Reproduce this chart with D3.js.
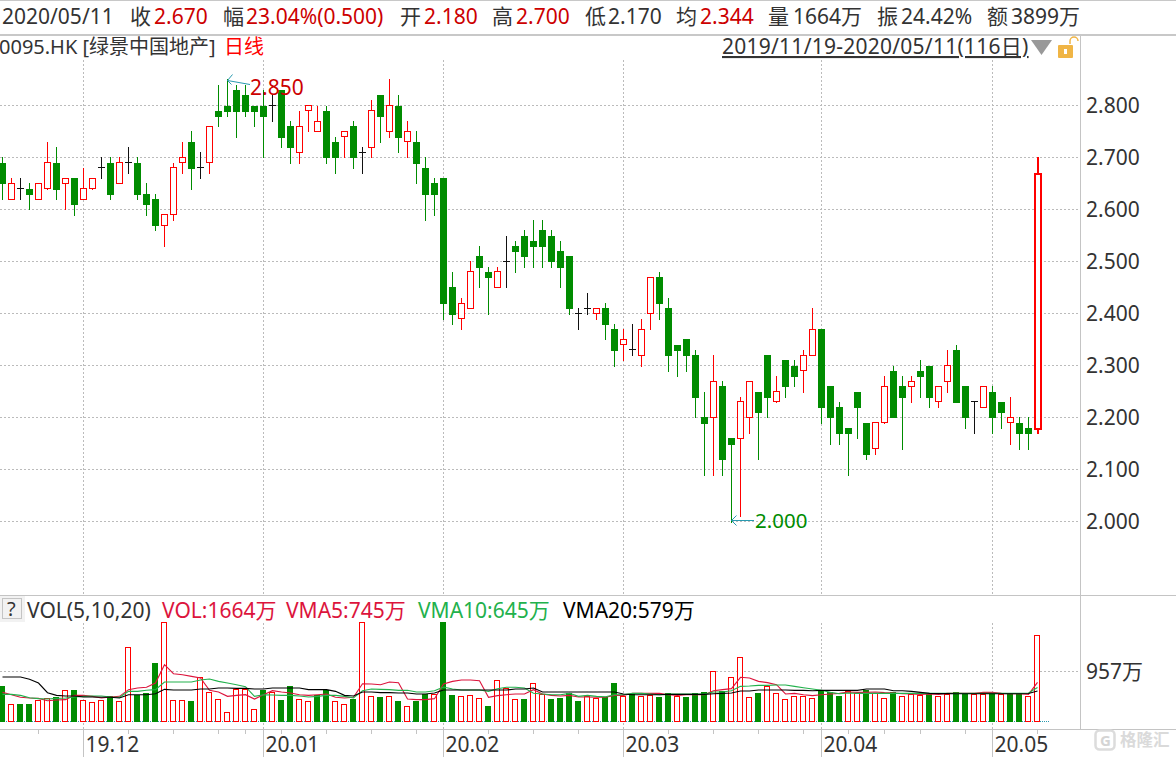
<!DOCTYPE html>
<html><head><meta charset="utf-8">
<script src="https://cdnjs.cloudflare.com/ajax/libs/d3/7.8.5/d3.min.js"></script>
<style>html,body{margin:0;padding:0;background:#fff;overflow:hidden}svg{display:block}text{font-family:"Noto Sans","Noto Sans CJK SC",sans-serif}</style>
</head><body><svg id="c" width="1176" height="757"></svg>
<script>
const opens=[2.69,2.62,2.64,2.64,2.62,2.64,2.69,2.65,2.66,2.62,
2.64,2.68,2.69,2.65,2.69,2.69,2.63,2.62,2.57,2.59,
2.69,2.73,2.68,2.69,2.79,2.80,2.83,2.82,2.80,2.80,
2.80,2.83,2.76,2.71,2.79,2.75,2.79,2.73,2.74,2.76,
2.71,2.72,2.82,2.75,2.80,2.73,2.73,2.68,2.65,2.66,
2.45,2.39,2.41,2.51,2.48,2.45,2.50,2.53,2.55,2.54,
2.56,2.55,2.52,2.51,2.40,2.41,2.40,2.41,2.37,2.34,
2.33,2.32,2.40,2.47,2.41,2.34,2.35,2.32,2.20,2.20,
2.26,2.16,2.16,2.20,2.25,2.32,2.23,2.31,2.30,2.29,
2.32,2.37,2.26,2.22,2.18,2.25,2.19,2.14,2.19,2.29,
2.26,2.26,2.29,2.30,2.23,2.27,2.33,2.26,2.23,2.22,
2.25,2.23,2.19,2.19,2.18,2.18];
const closes=[2.65,2.65,2.64,2.63,2.65,2.69,2.64,2.66,2.61,2.64,
2.66,2.68,2.63,2.69,2.69,2.63,2.61,2.57,2.59,2.68,
2.70,2.68,2.68,2.76,2.78,2.79,2.79,2.79,2.79,2.78,
2.80,2.74,2.72,2.76,2.80,2.77,2.70,2.70,2.75,2.70,
2.71,2.79,2.78,2.80,2.74,2.75,2.69,2.63,2.63,2.42,
2.40,2.42,2.48,2.49,2.47,2.48,2.50,2.52,2.51,2.53,
2.53,2.50,2.49,2.41,2.40,2.41,2.41,2.38,2.33,2.35,
2.33,2.37,2.47,2.42,2.32,2.33,2.32,2.24,2.19,2.27,
2.12,2.15,2.23,2.27,2.21,2.24,2.25,2.26,2.28,2.32,
2.37,2.22,2.20,2.17,2.17,2.22,2.13,2.19,2.26,2.20,
2.24,2.27,2.28,2.24,2.26,2.30,2.23,2.20,2.23,2.26,
2.20,2.21,2.20,2.17,2.17,2.67];
const highs=[2.70,2.66,2.66,2.65,2.65,2.73,2.72,2.66,2.66,2.68,
2.66,2.70,2.70,2.70,2.72,2.70,2.65,2.63,2.59,2.69,
2.73,2.75,2.71,2.76,2.84,2.85,2.84,2.84,2.80,2.83,
2.82,2.83,2.77,2.79,2.80,2.80,2.80,2.74,2.75,2.77,
2.72,2.81,2.82,2.85,2.82,2.77,2.75,2.70,2.66,2.66,
2.48,2.43,2.50,2.53,2.49,2.49,2.55,2.54,2.56,2.58,
2.58,2.56,2.54,2.51,2.41,2.44,2.41,2.42,2.38,2.37,
2.38,2.39,2.47,2.48,2.43,2.34,2.35,2.33,2.25,2.32,
2.27,2.16,2.24,2.27,2.25,2.32,2.28,2.31,2.31,2.33,
2.41,2.37,2.26,2.23,2.18,2.25,2.19,2.19,2.28,2.30,
2.28,2.28,2.31,2.30,2.26,2.33,2.34,2.26,2.23,2.26,
2.26,2.23,2.24,2.20,2.20,2.70];
const lows=[2.62,2.62,2.62,2.60,2.62,2.64,2.62,2.60,2.59,2.62,
2.64,2.66,2.62,2.65,2.67,2.62,2.59,2.56,2.53,2.58,
2.67,2.64,2.66,2.67,2.76,2.78,2.74,2.78,2.76,2.70,
2.77,2.72,2.69,2.69,2.75,2.75,2.69,2.67,2.70,2.68,
2.67,2.70,2.73,2.74,2.71,2.70,2.65,2.58,2.59,2.39,
2.38,2.37,2.41,2.45,2.40,2.45,2.45,2.48,2.49,2.49,
2.49,2.49,2.45,2.40,2.37,2.40,2.39,2.35,2.30,2.31,
2.32,2.30,2.37,2.39,2.29,2.28,2.29,2.20,2.09,2.09,
2.09,2.00,2.01,2.17,2.12,2.20,2.23,2.24,2.26,2.25,
2.32,2.19,2.15,2.15,2.09,2.16,2.12,2.13,2.19,2.20,
2.14,2.23,2.24,2.22,2.22,2.25,2.23,2.18,2.17,2.22,
2.17,2.18,2.15,2.14,2.14,2.17];
const volumes=[682,328,328,328,399,437,463,592,598,399,
367,399,482,386,1422,502,540,1119,1904,399,
399,386,843,566,425,167,618,618,232,605,
566,399,682,418,386,502,592,386,328,425,
1904,476,463,476,386,283,386,515,515,1904,
502,476,495,437,289,785,630,418,425,727,
527,425,444,540,386,476,437,457,727,476,
527,476,502,463,534,476,463,534,560,958,
579,849,1229,457,540,669,534,418,476,476,
437,579,560,482,579,534,605,534,437,560,
476,515,502,534,476,521,560,521,521,515,
534,527,527,527,476,1664];
const volRise=[0,1,0,0,1,1,0,1,0,1,
1,1,0,1,1,0,0,0,1,1,
1,0,1,1,1,1,1,1,1,0,
1,0,0,1,1,0,0,1,1,0,
1,1,0,1,0,1,0,0,1,0,
0,1,1,1,0,1,1,1,0,1,
1,0,0,0,0,1,1,0,0,1,
0,1,1,0,0,1,0,0,0,1,
0,1,1,1,0,1,1,1,1,1,
1,0,0,0,1,1,0,1,1,0,
1,1,1,0,1,1,0,0,1,1,
0,1,0,0,1,1];
const vma5=[553,508,457,444,437,392,405,412,495,495,
476,444,463,476,605,637,650,733,1087,913,
894,862,830,592,560,476,495,508,424,508,
585,560,540,508,495,508,521,457,444,457,
720,714,701,752,740,424,412,412,431,714,
765,791,791,778,457,489,508,521,521,605,
521,495,482,495,463,463,457,457,495,495,
534,534,534,534,508,495,508,508,508,585,
605,624,843,830,765,740,701,521,534,508,
489,508,521,534,560,553,553,560,547,540,
527,521,514,521,514,534,534,534,534,553,
553,534,527,527,514,745];
const vma10=[514,514,495,450,431,424,437,444,463,476,
482,482,463,457,572,572,592,605,752,752,
752,752,791,810,765,733,701,662,476,508,
502,495,495,482,463,476,495,495,476,444,
585,617,611,605,592,592,560,560,585,656,
617,598,598,598,572,624,650,650,637,534,
521,508,508,534,476,495,476,469,508,508,
534,534,521,508,521,521,521,521,521,560,
560,585,669,675,688,688,695,695,669,643,
617,592,553,527,540,534,534,534,534,534,
534,534,534,534,534,534,534,534,534,534,
534,534,534,534,540,645];
const vma20=[849,849,849,804,733,547,495,482,482,463,
463,457,457,444,508,508,508,527,611,598,
598,598,617,617,637,637,630,630,617,617,
637,637,637,637,605,605,605,572,495,482,
560,560,547,547,540,540,521,521,540,598,
598,598,598,598,598,598,598,617,617,637,
560,560,560,560,560,560,560,560,560,521,
508,508,508,508,514,514,514,514,514,527,
534,540,579,579,598,598,598,598,592,592,
585,592,592,592,592,592,617,617,617,585,
585,572,553,534,528,528,527,527,527,527,
527,527,527,527,530,579];
const priceTicks=[2.8,2.7,2.6,2.5,2.4,2.3,2.2,2.1,2.0];
const volTicks=[957];
const monthTicks=[[9,"19.12"],[29,"20.01"],[49,"20.02"],[69,"20.03"],[91,"20.04"],[110,"20.05"]];
const minorTicks=[4,14,19,24,27,31,36,41,46,54,59,64,74,79,84,89,94,98,102,107,115];

const RED="#ff0000",GRN="#008c00",INK="#333333",DRED="#cc0000";
const svg=d3.select("#c");
const x=d3.scaleLinear().domain([0,115]).range([2.5,1037.5]);
const y=d3.scaleLinear().domain([2.0,2.8]).range([521.5,105.5]);
const crisp=v=>Math.floor(v)+0.5;
const vBase=721;
const yv=d3.scaleLinear().domain([0,19.3]).range([vBase,vBase-1]);

const bg=svg.append("g");
bg.append("rect").attr("x",0).attr("y",0).attr("width",1176).attr("height",1).attr("fill","#c8c8c8");
bg.append("rect").attr("x",0).attr("y",34).attr("width",1176).attr("height",2).attr("fill","#c8c8c8");
bg.append("rect").attr("x",1080).attr("y",36).attr("width",1).attr("height",693).attr("fill","#c4c4c4");
bg.append("rect").attr("x",0).attr("y",595).attr("width",1176).attr("height",1).attr("fill","#c4c4c4");
bg.append("rect").attr("x",0).attr("y",729).attr("width",1176).attr("height",1).attr("fill","#c4c4c4");

const dash="2,2";
bg.selectAll(".hg").data(priceTicks).join("line").attr("x1",0).attr("x2",1080)
 .attr("y1",d=>crisp(y(d))).attr("y2",d=>crisp(y(d))).attr("stroke","#bbb").attr("stroke-dasharray",dash);
bg.selectAll(".vg").data(monthTicks).join("line").attr("x1",d=>crisp(x(d[0]))).attr("x2",d=>crisp(x(d[0])))
 .attr("y1",60).attr("y2",595).attr("stroke","#bbb").attr("stroke-dasharray",dash);
bg.selectAll(".vg2").data(monthTicks).join("line").attr("x1",d=>crisp(x(d[0]))).attr("x2",d=>crisp(x(d[0])))
 .attr("y1",623).attr("y2",729).attr("stroke","#bbb").attr("stroke-dasharray",dash);
bg.selectAll(".vh").data(volTicks).join("line").attr("x1",0).attr("x2",1080)
 .attr("y1",d=>crisp(yv(d))).attr("y2",d=>crisp(yv(d))).attr("stroke","#bbb").attr("stroke-dasharray",dash);
bg.selectAll(".mt").data(monthTicks).join("line").attr("x1",d=>crisp(x(d[0]))).attr("x2",d=>crisp(x(d[0])))
 .attr("y1",730).attr("y2",757).attr("stroke","#c4c4c4");
bg.selectAll(".nt").data(minorTicks).join("line").attr("x1",d=>crisp(x(d))).attr("x2",d=>crisp(x(d)))
 .attr("y1",730).attr("y2",734).attr("stroke","#c4c4c4");
bg.append("line").attr("x1",0).attr("x2",1049).attr("y1",vBase+.5).attr("y2",vBase+.5).attr("stroke","#2a9ab0").attr("stroke-dasharray","1,1");

const idx=d3.range(opens.length);
const col=i=>closes[i]>opens[i]?RED:closes[i]<opens[i]?GRN:"#111";
const g=svg.append("g");
idx.forEach(i=>{
  const cx=x(i),last=i===115,c=col(i);
  g.append("line").attr("x1",last?cx+.5:cx).attr("x2",last?cx+.5:cx).attr("y1",Math.round(y(highs[i]))).attr("y2",Math.round(y(lows[i]))+1).attr("stroke",c).attr("stroke-width",last?2:1);
  const t=y(Math.max(opens[i],closes[i])),b=y(Math.min(opens[i],closes[i]));
  if(c===GRN){
    g.append("rect").attr("x",cx-3.5).attr("width",7).attr("y",Math.round(t)).attr("height",Math.max(1,Math.round(b)-Math.round(t)+1)).attr("fill",GRN);
  }else if(c===RED){
    if(last) g.append("rect").attr("x",cx-2.5).attr("width",6).attr("y",Math.round(t)+1).attr("height",Math.round(b)-Math.round(t)).attr("fill","#fff").attr("stroke",RED).attr("stroke-width",2);
    else g.append("rect").attr("x",cx-3).attr("width",6).attr("y",crisp(t)).attr("height",Math.max(1,crisp(b)-crisp(t))).attr("fill","#fff").attr("stroke",RED);
  }else{
    g.append("line").attr("x1",cx-3.5).attr("x2",cx+3.5).attr("y1",crisp(t)).attr("y2",crisp(t)).attr("stroke",c);
  }
});

const vg=svg.append("g");
idx.forEach(i=>{
  const cx=x(i),top=Math.round(yv(volumes[i]));
  if(volRise[i]) vg.append("rect").attr("x",cx-3).attr("width",5).attr("y",top+.5).attr("height",vBase-top).attr("fill","#fff").attr("stroke",RED);
  else vg.append("rect").attr("x",cx-3.5).attr("width",6).attr("y",top).attr("height",vBase-top+1).attr("fill",GRN);
});
const ln=d3.line().x((d,i)=>x(i)).y(d=>yv(d));
[[vma5,"#dc143c"],[vma10,"#22b14c"],[vma20,"#000"]].forEach(([a,c])=>{
  svg.append("path").attr("d",ln(a)).attr("fill","none").attr("stroke",c).attr("stroke-width",1.1);
});

const FS=21;
const T=(tx,ty,s,fill,size=FS,extra)=>{const e=svg.append("text").attr("x",tx).attr("y",ty).attr("fill",fill).attr("font-size",size).text(s);if(extra)extra(e);return e;};
const hb=24;
[[2,"2020/05/11",INK],[130,"收",INK],[154,"2.670",DRED],[223,"幅",INK],[246,"23.04%(0.500)",DRED],[400,"开",INK],[424,"2.180",DRED],[492,"高",INK],[516,"2.700",DRED],[585,"低",INK],[608,"2.170",INK],[676,"均",INK],[700,"2.344",DRED],[768,"量",INK],[793,"1664万",INK],[877,"振",INK],[901,"24.42%",INK],[987,"额",INK],[1011,"3899万",INK]]
 .forEach(d=>T(d[0],hb,d[1],d[2]));
T(-1,54,"0095.HK [绿景中国地产]",INK,20);
T(224,54,"日线",RED,20);
T(722,54,"2019/11/19-2020/05/11(116日)",INK,FS,e=>e.attr("text-decoration","underline").attr("letter-spacing",0.25));
svg.append("path").attr("d","M1031 40L1052 40L1041.5 55Z").attr("fill","#999");
svg.append("rect").attr("x",1058).attr("y",45).attr("width",15).attr("height",13).attr("rx",1).attr("fill","#f0b545");
svg.append("rect").attr("x",1064).attr("y",49).attr("width",3).attr("height",5).attr("fill","#fff");
svg.append("path").attr("d","M1070 44V41A4 4 0 0 1 1078 41").attr("fill","none").attr("stroke","#f0b545").attr("stroke-width",1.5);

svg.selectAll(".yl").data(priceTicks).join("text").attr("x",1086).attr("y",d=>y(d)+7.5).attr("fill",INK).attr("font-size",FS).text(d=>d.toFixed(3));
svg.selectAll(".vl").data(volTicks).join("text").attr("x",1086).attr("y",d=>yv(d)+8).attr("fill",INK).attr("font-size",FS).text(d=>d+"万");
svg.selectAll(".xl").data(monthTicks).join("text").attr("x",d=>x(d[0])+2).attr("y",752).attr("fill",INK).attr("font-size",FS).text(d=>d[1]);

const arrow="#2a9ab0";
const ha=x(25);
svg.append("path").attr("d",`M250 84.5L${ha} 80.5M${ha+5} 74.5L${ha} 80.5L${ha+4} 84.5`).attr("fill","none").attr("stroke",arrow);
T(250,95,"2.850",DRED);
const la=x(81);
svg.append("path").attr("d",`M754 520.5L${la} 520.5M${la+5} 515.5L${la} 520.5L${la+5} 525.5`).attr("fill","none").attr("stroke",arrow);
T(755,527.5,"2.000",GRN,20.5);

svg.append("rect").attr("x",0).attr("y",596).attr("width",25).attr("height",26).attr("fill","#f2f2f2");
svg.append("rect").attr("x",2.5).attr("y",598.5).attr("width",19).attr("height",20).attr("fill","none").attr("stroke","#c4c4c4");
T(7,616,"?",INK,20);
T(27,618,"VOL(5,10,20)",INK);
T(162,618,"VOL:1664万","#dc143c");
T(286,618,"VMA5:745万","#dc143c");
T(418,618,"VMA10:645万","#22b14c");
T(563,618,"VMA20:579万","#000");

svg.append("rect").attr("x",1095.5).attr("y",730.5).attr("width",19).attr("height",19).attr("rx",4).attr("fill","none").attr("stroke","#dcdcdc").attr("stroke-width",2.5);
T(1100,746,"G","#d4d4d4",15).attr("font-weight",700);
T(1120,746,"格隆汇","#dadada",16.5).attr("font-weight",700);
</script></body></html>
